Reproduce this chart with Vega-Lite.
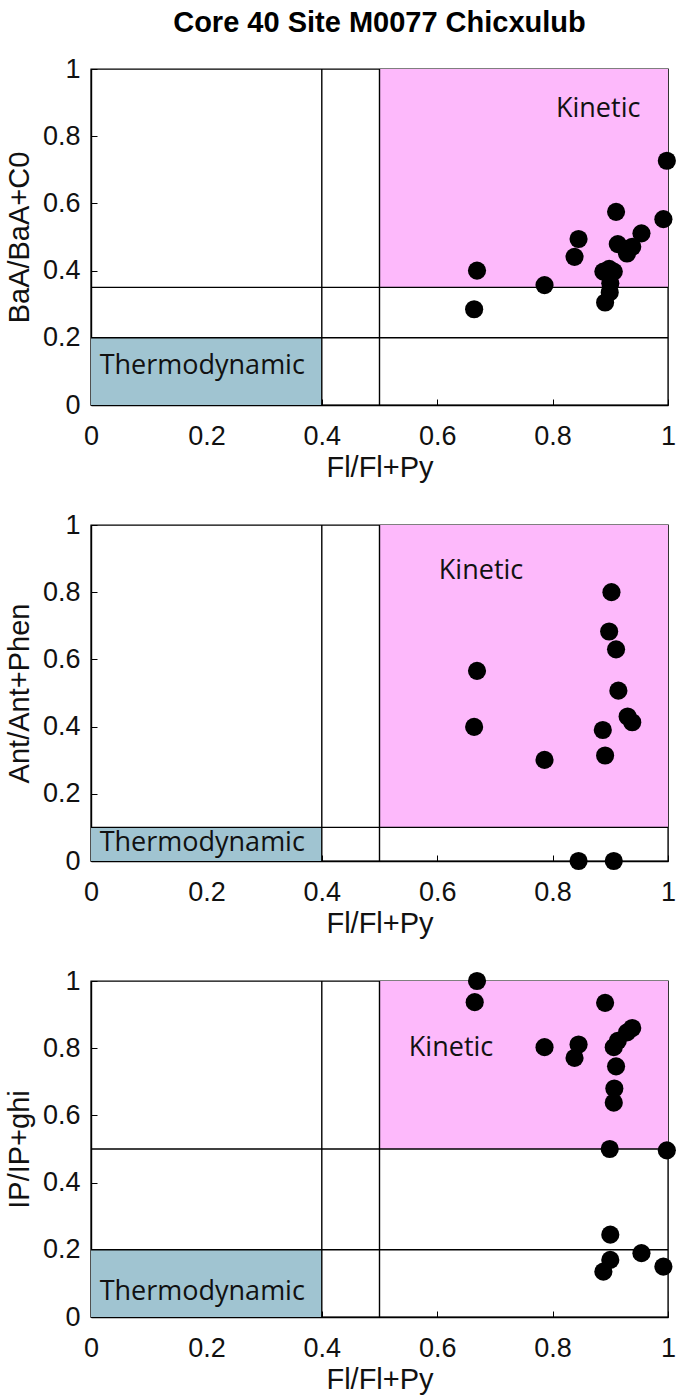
{
  "$schema": "https://vega.github.io/schema/vega-lite/v6.json",
  "background": "white",
  "padding": {"left": 4, "top": 8, "right": 0, "bottom": 0},
  "spacing": 27,
  "datasets": {
    "pts1": [
      {"x": 0.998, "y": 0.727}, {"x": 0.992, "y": 0.553}, {"x": 0.910, "y": 0.575}, {"x": 0.954, "y": 0.511},
      {"x": 0.913, "y": 0.479}, {"x": 0.938, "y": 0.471}, {"x": 0.929, "y": 0.451}, {"x": 0.845, "y": 0.494},
      {"x": 0.838, "y": 0.441}, {"x": 0.669, "y": 0.400}, {"x": 0.664, "y": 0.285}, {"x": 0.786, "y": 0.357},
      {"x": 0.888, "y": 0.397}, {"x": 0.906, "y": 0.397}, {"x": 0.898, "y": 0.405}, {"x": 0.900, "y": 0.362},
      {"x": 0.899, "y": 0.335}, {"x": 0.891, "y": 0.305}
    ],
    "pts2": [
      {"x": 0.902, "y": 0.800}, {"x": 0.898, "y": 0.683}, {"x": 0.910, "y": 0.630}, {"x": 0.669, "y": 0.566},
      {"x": 0.914, "y": 0.507}, {"x": 0.930, "y": 0.430}, {"x": 0.938, "y": 0.413}, {"x": 0.664, "y": 0.399},
      {"x": 0.887, "y": 0.390}, {"x": 0.891, "y": 0.314}, {"x": 0.786, "y": 0.301}, {"x": 0.845, "y": 0.0},
      {"x": 0.906, "y": 0.0}
    ],
    "pts3": [
      {"x": 0.669, "y": 1.0}, {"x": 0.665, "y": 0.937}, {"x": 0.891, "y": 0.935}, {"x": 0.938, "y": 0.860},
      {"x": 0.929, "y": 0.847}, {"x": 0.913, "y": 0.822}, {"x": 0.906, "y": 0.803}, {"x": 0.786, "y": 0.803},
      {"x": 0.845, "y": 0.811}, {"x": 0.838, "y": 0.771}, {"x": 0.910, "y": 0.746}, {"x": 0.907, "y": 0.680},
      {"x": 0.906, "y": 0.638}, {"x": 0.899, "y": 0.500}, {"x": 0.998, "y": 0.496}, {"x": 0.900, "y": 0.245},
      {"x": 0.954, "y": 0.190}, {"x": 0.992, "y": 0.150}, {"x": 0.900, "y": 0.170}, {"x": 0.888, "y": 0.135}
    ],
    "zones": [
      {"panel": 1, "kind": "Kinetic", "x0": 0.5, "x1": 1, "y0": 0.35, "y1": 1},
      {"panel": 1, "kind": "Thermodynamic", "x0": 0, "x1": 0.4, "y0": 0, "y1": 0.2},
      {"panel": 2, "kind": "Kinetic", "x0": 0.5, "x1": 1, "y0": 0.1, "y1": 1},
      {"panel": 2, "kind": "Thermodynamic", "x0": 0, "x1": 0.4, "y0": 0, "y1": 0.1},
      {"panel": 3, "kind": "Kinetic", "x0": 0.5, "x1": 1, "y0": 0.5, "y1": 1},
      {"panel": 3, "kind": "Thermodynamic", "x0": 0, "x1": 0.4, "y0": 0, "y1": 0.2}
    ],
    "vlines": [
      {"panel": 1, "x": 0.4}, {"panel": 1, "x": 0.5},
      {"panel": 2, "x": 0.4}, {"panel": 2, "x": 0.5},
      {"panel": 3, "x": 0.4}, {"panel": 3, "x": 0.5}
    ],
    "hlines": [
      {"panel": 1, "y": 0.35}, {"panel": 1, "y": 0.2},
      {"panel": 2, "y": 0.1},
      {"panel": 3, "y": 0.5}, {"panel": 3, "y": 0.2}
    ],
    "labels": [
      {"panel": 1, "label": "Kinetic", "x": 0.879, "y": 0.881},
      {"panel": 1, "label": "Thermodynamic", "x": 0.015, "y": 0.115},
      {"panel": 2, "label": "Kinetic", "x": 0.676, "y": 0.862},
      {"panel": 2, "label": "Thermodynamic", "x": 0.015, "y": 0.055},
      {"panel": 3, "label": "Kinetic", "x": 0.624, "y": 0.80},
      {"panel": 3, "label": "Thermodynamic", "x": 0.015, "y": 0.075}
    ]
  },
  "vconcat": [
    {
      "title": {"text": "Core 40 Site M0077 Chicxulub", "anchor": "middle", "font": "Liberation Sans", "fontSize": 29, "fontWeight": "bold", "color": "#000000", "offset": 17},
      "width": 577, "height": 336,
      "layer": [
        {"data": {"name": "zones"}, "transform": [{"filter": "datum.panel == 1"}], "mark": {"type": "rect"},
         "encoding": {"x": {"field": "x0", "type": "quantitative", "scale": {"domain": [0, 1], "nice": false}, "axis": {"title": "Fl/Fl+Py", "values": [0, 0.2, 0.4, 0.6, 0.8, 1]}}, "x2": {"field": "x1"},
                      "y": {"field": "y0", "type": "quantitative", "scale": {"domain": [0, 1], "nice": false}, "axis": {"title": "BaA/BaA+C0", "values": [0, 0.2, 0.4, 0.6, 0.8, 1]}}, "y2": {"field": "y1"},
                      "color": {"field": "kind", "type": "nominal", "scale": {"domain": ["Kinetic", "Thermodynamic"], "range": ["#fdb9fb", "#a0c4d1"]}, "legend": null}}},
        {"data": {"name": "vlines"}, "transform": [{"filter": "datum.panel == 1"}], "mark": {"type": "rule", "color": "#000000", "strokeWidth": 1.4},
         "encoding": {"x": {"field": "x", "type": "quantitative"}}},
        {"data": {"name": "hlines"}, "transform": [{"filter": "datum.panel == 1"}], "mark": {"type": "rule", "color": "#000000", "strokeWidth": 1.4},
         "encoding": {"y": {"field": "y", "type": "quantitative"}}},
        {"data": {"name": "labels"}, "transform": [{"filter": "datum.panel == 1 && datum.label == 'Kinetic'"}], "mark": {"type": "text", "font": "Open Sans", "fontSize": 27, "color": "#111111", "baseline": "middle", "align": "center"},
         "encoding": {"x": {"field": "x", "type": "quantitative"}, "y": {"field": "y", "type": "quantitative"}, "text": {"field": "label"}}},
        {"data": {"name": "labels"}, "transform": [{"filter": "datum.panel == 1 && datum.label == 'Thermodynamic'"}], "mark": {"type": "text", "font": "Open Sans", "fontSize": 27, "color": "#111111", "baseline": "middle", "align": "left"},
         "encoding": {"x": {"field": "x", "type": "quantitative"}, "y": {"field": "y", "type": "quantitative"}, "text": {"field": "label"}}},
        {"data": {"name": "pts1"}, "mark": {"type": "circle", "color": "#000000", "opacity": 1, "size": 330},
         "encoding": {"x": {"field": "x", "type": "quantitative"}, "y": {"field": "y", "type": "quantitative"}}}
      ]
    },
    {
      "width": 577, "height": 336,
      "layer": [
        {"data": {"name": "zones"}, "transform": [{"filter": "datum.panel == 2"}], "mark": {"type": "rect"},
         "encoding": {"x": {"field": "x0", "type": "quantitative", "scale": {"domain": [0, 1], "nice": false}, "axis": {"title": "Fl/Fl+Py", "values": [0, 0.2, 0.4, 0.6, 0.8, 1]}}, "x2": {"field": "x1"},
                      "y": {"field": "y0", "type": "quantitative", "scale": {"domain": [0, 1], "nice": false}, "axis": {"title": "Ant/Ant+Phen", "values": [0, 0.2, 0.4, 0.6, 0.8, 1]}}, "y2": {"field": "y1"},
                      "color": {"field": "kind", "type": "nominal", "scale": {"domain": ["Kinetic", "Thermodynamic"], "range": ["#fdb9fb", "#a0c4d1"]}, "legend": null}}},
        {"data": {"name": "vlines"}, "transform": [{"filter": "datum.panel == 2"}], "mark": {"type": "rule", "color": "#000000", "strokeWidth": 1.4},
         "encoding": {"x": {"field": "x", "type": "quantitative"}}},
        {"data": {"name": "hlines"}, "transform": [{"filter": "datum.panel == 2"}], "mark": {"type": "rule", "color": "#000000", "strokeWidth": 1.4},
         "encoding": {"y": {"field": "y", "type": "quantitative"}}},
        {"data": {"name": "labels"}, "transform": [{"filter": "datum.panel == 2 && datum.label == 'Kinetic'"}], "mark": {"type": "text", "font": "Open Sans", "fontSize": 27, "color": "#111111", "baseline": "middle", "align": "center"},
         "encoding": {"x": {"field": "x", "type": "quantitative"}, "y": {"field": "y", "type": "quantitative"}, "text": {"field": "label"}}},
        {"data": {"name": "labels"}, "transform": [{"filter": "datum.panel == 2 && datum.label == 'Thermodynamic'"}], "mark": {"type": "text", "font": "Open Sans", "fontSize": 27, "color": "#111111", "baseline": "middle", "align": "left"},
         "encoding": {"x": {"field": "x", "type": "quantitative"}, "y": {"field": "y", "type": "quantitative"}, "text": {"field": "label"}}},
        {"data": {"name": "pts2"}, "mark": {"type": "circle", "color": "#000000", "opacity": 1, "size": 330},
         "encoding": {"x": {"field": "x", "type": "quantitative"}, "y": {"field": "y", "type": "quantitative"}}}
      ]
    },
    {
      "width": 577, "height": 336,
      "layer": [
        {"data": {"name": "zones"}, "transform": [{"filter": "datum.panel == 3"}], "mark": {"type": "rect"},
         "encoding": {"x": {"field": "x0", "type": "quantitative", "scale": {"domain": [0, 1], "nice": false}, "axis": {"title": "Fl/Fl+Py", "values": [0, 0.2, 0.4, 0.6, 0.8, 1]}}, "x2": {"field": "x1"},
                      "y": {"field": "y0", "type": "quantitative", "scale": {"domain": [0, 1], "nice": false}, "axis": {"title": "IP/IP+ghi", "values": [0, 0.2, 0.4, 0.6, 0.8, 1]}}, "y2": {"field": "y1"},
                      "color": {"field": "kind", "type": "nominal", "scale": {"domain": ["Kinetic", "Thermodynamic"], "range": ["#fdb9fb", "#a0c4d1"]}, "legend": null}}},
        {"data": {"name": "vlines"}, "transform": [{"filter": "datum.panel == 3"}], "mark": {"type": "rule", "color": "#000000", "strokeWidth": 1.4},
         "encoding": {"x": {"field": "x", "type": "quantitative"}}},
        {"data": {"name": "hlines"}, "transform": [{"filter": "datum.panel == 3"}], "mark": {"type": "rule", "color": "#000000", "strokeWidth": 1.4},
         "encoding": {"y": {"field": "y", "type": "quantitative"}}},
        {"data": {"name": "labels"}, "transform": [{"filter": "datum.panel == 3 && datum.label == 'Kinetic'"}], "mark": {"type": "text", "font": "Open Sans", "fontSize": 27, "color": "#111111", "baseline": "middle", "align": "center"},
         "encoding": {"x": {"field": "x", "type": "quantitative"}, "y": {"field": "y", "type": "quantitative"}, "text": {"field": "label"}}},
        {"data": {"name": "labels"}, "transform": [{"filter": "datum.panel == 3 && datum.label == 'Thermodynamic'"}], "mark": {"type": "text", "font": "Open Sans", "fontSize": 27, "color": "#111111", "baseline": "middle", "align": "left"},
         "encoding": {"x": {"field": "x", "type": "quantitative"}, "y": {"field": "y", "type": "quantitative"}, "text": {"field": "label"}}},
        {"data": {"name": "pts3"}, "mark": {"type": "circle", "color": "#000000", "opacity": 1, "size": 330},
         "encoding": {"x": {"field": "x", "type": "quantitative"}, "y": {"field": "y", "type": "quantitative"}}}
      ]
    }
  ],
  "config": {
    "view": {"stroke": "#000000", "strokeWidth": 1.4},
    "axis": {
      "format": "~g",
      "grid": false,
      "domainColor": "#000000",
      "domainWidth": 1.4,
      "tickColor": "#000000",
      "tickSize": -6,
      "labelFont": "Liberation Sans",
      "labelFontSize": 27,
      "labelColor": "#111111",
      "titleFont": "Liberation Sans",
      "titleFontSize": 29,
      "titleFontWeight": "normal",
      "titleColor": "#111111"
    },
    "axisX": {"labelPadding": 24, "titlePadding": 4, "labelFlush": false},
    "axisY": {"labelPadding": 17, "titlePadding": 8}
  }
}
